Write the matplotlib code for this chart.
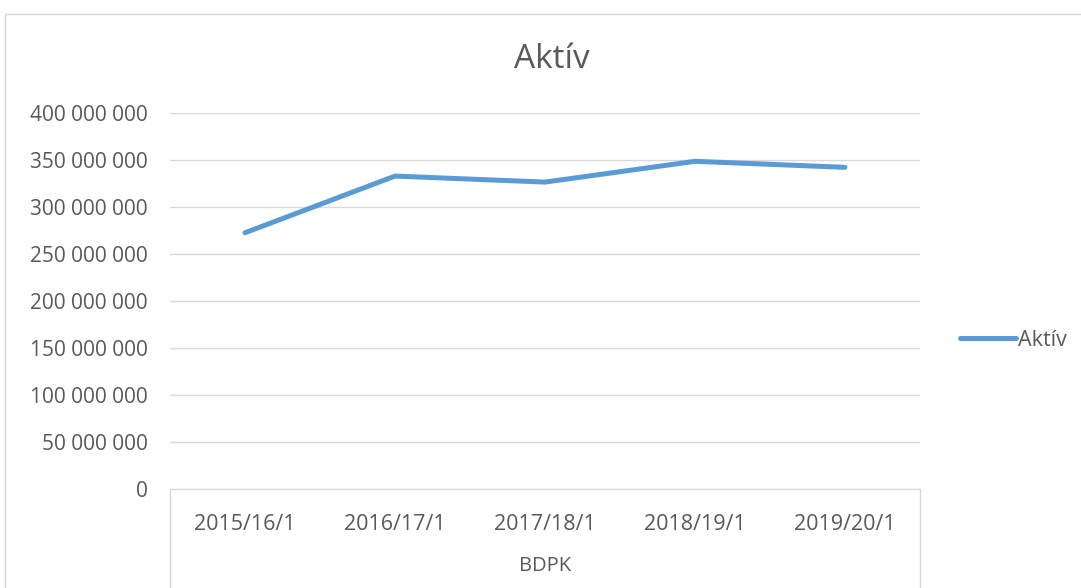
import matplotlib.pyplot as plt
from matplotlib.patches import Rectangle
from matplotlib.ticker import FuncFormatter

categories = ['2015/16/1', '2016/17/1', '2017/18/1', '2018/19/1', '2019/20/1']
aktiv = [272_600_000, 332_900_000, 326_500_000, 348_600_000, 342_200_000]
group_label = 'BDPK'
series_name = 'Aktív'

W, H = 1081, 588
plt.rcParams['font.family'] = ['Open Sans', 'DejaVu Sans']
txt = '#595959'
grid = '#D9D9D9'
blue = '#5B9BD5'

fig = plt.figure(figsize=(W / 100, H / 100), dpi=100)
fig.patches.append(Rectangle((5 / W, -0.1), 1.1, 1 - 14 / H + 0.1, transform=fig.transFigure,
                             fill=False, edgecolor=grid, linewidth=1))

x0, x1, yb, yt = 170, 920, 489, 113
ax = fig.add_axes([x0 / W, 1 - yb / H, (x1 - x0) / W, (yb - yt) / H])

xs = range(len(categories))
ax.plot(xs, aktiv, color=blue, linewidth=3.6, solid_capstyle='round', label=series_name)

ax.set_xlim(-0.5, len(categories) - 0.5)
ax.set_ylim(0, 400_000_000)
ax.set_yticks(range(0, 400_000_001, 50_000_000))
ax.yaxis.set_major_formatter(FuncFormatter(lambda v, p: f'{int(v):,}'.replace(',', ' ')))
ax.grid(axis='y', color=grid, linewidth=1)
ax.set_axisbelow(True)
for s in ['left', 'right', 'top']:
    ax.spines[s].set_visible(False)
ax.spines['bottom'].set_color(grid)
ax.tick_params(axis='y', length=0, pad=16, labelsize=15, labelcolor=txt)
ax.set_xticks(list(xs))
ax.set_xticklabels(categories)
ax.tick_params(axis='x', length=0, pad=18, labelsize=15.5, labelcolor=txt)

# group level of the category axis
ax.text(0.5, -(566 - yb) / (yb - yt), group_label, transform=ax.transAxes,
        ha='center', va='center', fontsize=14.5, color=txt)
for xe in (0, 1):
    ax.plot([xe, xe], [0, -(H - yb) / (yb - yt)], transform=ax.transAxes,
            color=grid, linewidth=1, clip_on=False)

fig.text(552 / W, 1 - 60 / H, 'Aktív', ha='center', va='center', fontsize=24, color=txt)

leg = fig.legend(loc='center left', bbox_to_anchor=(941 / W, 1 - 340 / H), frameon=False,
                 fontsize=15.5, handlelength=2.6, handletextpad=0.1, labelcolor=txt)

fig.savefig('out.png', dpi=100)
